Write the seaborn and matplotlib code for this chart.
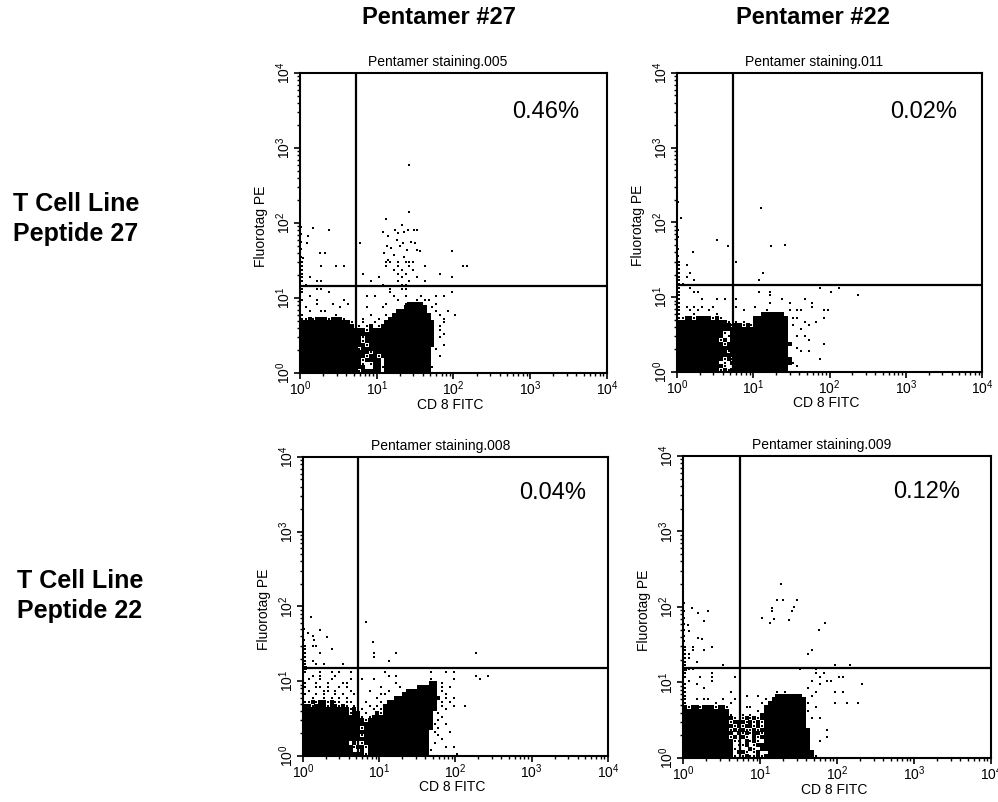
import numpy as np
import pandas as pd
import matplotlib
matplotlib.use('Agg')
import matplotlib.pyplot as plt
from matplotlib.ticker import LogLocator, NullFormatter
import seaborn as sns

sns.set_style('ticks')
plt.rcParams['font.family'] = ['Liberation Sans', 'DejaVu Sans']
plt.rcParams['mathtext.fontset'] = 'custom'
plt.rcParams['mathtext.rm'] = 'Liberation Sans'
plt.rcParams['text.color'] = 'black'
plt.rcParams['axes.labelcolor'] = 'black'

# --------------------
# Data
# --------------------
# Each grid covers CD8 0..2.5 decades (50 columns) and PE 0..1.5 decades
# (30 rows, top row first), 0.05 decade per cell.
# '#' = solid region of events, '.' = single event, '|' separates 10 columns.
CELL = 0.05

grid_005 = [
    ".||  .. . ...",
    ".    .   .| .|  .  .  . |  .|  ..",
    ".||    . .  .",
    ".|      .|     . .|      .",
    ". .||.     .|.        .",
    ".   ..|        .|     .  .|  .",
    " .|| .    ..",
    ".   ..||   .  ..",
    ".      .||   .|         .",
    "  .|       . .|    .  .| .   . .",
    ".   .| .|     .|. ..",
    "    .   .|  .|  .    .##|##   .",
    " .|.      .| .     ###|### .",
    "  .  ..|    .|     #####|###  .  .",
    ".        .|        .|  . ######|####  .|.",
    "..#.###.##|#.    .|.  #######|####   .",
    "##########|###.  .  .|  ########|#####  .",
    "##########|#### . .# |.#########|##### .",
    "##########|#######.##|##########|##### .",
    "##########|##########|##########|#####  .",
    "##########|######.###|##########|##### .",
    "##########|######.###|##########|#####",
    "##########|#######.##|##########|#####  .",
    "##########|#####.####|##########|#### .",
    "##########|########.#|##########|####",
    "##########|#######.##|.#########|####  .",
    "##########|######.###|# ########|####",
    "##########|######. .#|# ########|####",
    "##########|#######  #|#.########|####.",
    "##########|#####.####|# ########|####",
]

grid_011 = [
    ".|     .",
    ". .",
    ".",
    ".  .||  .",
    ". .",
    ".   .|| .",
    "..",
    ".  .|||       .|  .",
    ".   ..|| .  .||.",
    ".||    .||       .",
    ".     .|. .  .|       .|   .",
    ".||    .    .|     .",
    ". . . .  .|     .|.|     .",
    ".  . .  . |       .  |   .     .| ..     ..",
    ".   .|.|  ######",
    "..##.####.|#.|######### |..      .",
    "##########|###. . .|######### |   .  .",
    "##########|####.##.#.|######### |.   .",
    "##########|##########|######### |  .",
    "##########|##. ######|######### ",
    "##########|## .######|######### | . .",
    "##########|#.# ######|######### |    .",
    "##########|##.#######|##########|        .",
    "##########|##########|######### | .",
    "##########|###.######|######### |  . .",
    "##########|##########|######### ",
    "##########|##.#.#####|##########|       .",
    "##########|# . ######|##########|.",
    "##########|##.  #####|######### | .",
    "##########|#.#.######|######### ",
]

grid_008 = [
    ". ..",
    ".      .",
    ".   .|        .|    .||     .",
    ".|        .",
    ". .||  .",
    ".  . .|.",
    "# .     . || .     .",
    ".   .  . .|  .| .|   .   . .",
    "  . .   .||  . .||     .  .",
    " .  .  .|  .  .  .||   .     .|      .",
    ".  .  .|..|    .|   ## .",
    ".  .. .  .| .|.    .|##### . .",
    " .   .. . |  .    .|  .    ###|##### .",
    ".  . .  . |.  .|..    ####|#####  .",
    "  .  . . .| .  .    .|    ######|###### . .",
    "..#.##.#..| ..   .|. ########|##### . .",
    "##.###.##.|#. .   . .| #########|##### .  .|  .",
    "##########|##.# .  . |.#########|#####  .",
    "##########|##.## .  #|.#########|#### .",
    "##########|#####. .##|##########|####  .",
    "##########|######.###|##########|#### .",
    "##########|##########|##########|####.  .",
    "##########|#####.####|##########|#### .",
    "##########|##########|##########|### .   .",
    "##########|#####.####|##########|###  .",
    "##########|##########|##########|###   .",
    "##########|## #..####|##########|### .",
    "##########|###.##.###|##########|###    . .",
    "##########|### .# ###|##########|###.",
    "##########|######.###|##########|###|.",
]

grid_009 = [
    ". .    .",
    ". .  .|||   .",
    "..|||  .",
    "..",
    ".  .",
    ".|.||         .|   .",
    "#..|||.   .",
    ".      .|||    . .",
    ".   .  .|   .||     .|..",
    " .     .|||   .   ..",
    ".  .|||     .|      .",
    ".    .|||  .",
    ".|  .|    . .|    .    .| .",
    ".|      .  .|    ######|#  .",
    ".  . ..|.  .| . #######|##",
    ".       .|  .|. ########|##.      .|  .  .",
    "#.##.###.#|#.    ..| #########|##  .",
    "##########|##       .| #########|##.",
    "##########|##.  . .  |##########|##",
    "##########|###. .#.#.|##########|## . .",
    "##########|##.###.#.#|.#########|##",
    "##########|###.#.##.#|.#########|##",
    "##########|##.#.#..#.|##########|###    .",
    "##########|### #.#.##|.#########|###",
    "##########|##.# #. #.|##########|###    .",
    "##########|###.. #.#.| #########|###  .",
    "##########|### ..# .#|##########|###",
    "##########|###.   #. |##########|###",
    "##########|### ##. .#|  ########|####",
    "##########|###. .#..#|.#########|####.",
]

# events above the grids, (CD8, PE) in decades
extra_005 = [(1.33, 1.97), (1.24, 1.90), (1.28, 1.87), (1.35, 1.88), (1.41, 1.90),
             (1.48, 1.91), (1.52, 1.90), (1.08, 1.88), (1.15, 1.82), (1.26, 1.77),
             (1.34, 1.73), (1.45, 1.75), (1.50, 1.73), (1.13, 1.69), (1.19, 1.66),
             (1.30, 1.69), (1.39, 1.64), (1.52, 1.64), (1.56, 1.62), (1.09, 1.60),
             (1.22, 1.57), (1.35, 1.55), (1.15, 1.51), (1.98, 1.62), (0.78, 1.73),
             (0.17, 1.93), (0.38, 1.91), (0.11, 1.82), (0.26, 1.60), (0.33, 1.60),
             (0.09, 1.73), (0.04, 1.53), (1.42, 2.77), (1.42, 2.15), (1.12, 2.05),
             (0.01, 1.55), (0.01, 1.65), (0.01, 1.75), (0.01, 1.85), (0.01, 1.95)]
extra_011 = [(0.52, 1.77), (0.67, 1.69), (1.23, 1.69), (1.41, 1.70), (0.21, 1.60),
             (1.10, 2.19), (0.05, 2.06), (0.01, 2.27), (0.01, 1.55), (0.01, 1.65),
             (0.01, 1.80), (0.01, 1.90)]
extra_008 = [(0.10, 1.86), (0.83, 1.79), (0.22, 1.68), (0.07, 1.64), (0.13, 1.61),
             (0.31, 1.59), (0.15, 1.55), (0.92, 1.53), (0.01, 1.55), (0.01, 1.70)]
extra_009 = [(1.27, 2.30), (1.22, 2.09), (1.30, 2.09), (1.15, 1.98), (1.16, 1.94),
             (1.03, 1.85), (1.13, 1.79), (1.18, 1.84), (1.38, 1.83), (1.41, 1.94),
             (1.48, 2.09), (1.44, 2.00), (1.77, 1.69), (1.85, 1.79), (0.11, 1.99),
             (0.19, 1.92), (0.32, 1.95), (0.27, 1.82), (0.06, 1.76), (0.08, 1.68),
             (0.19, 1.59), (0.24, 1.57), (0.01, 1.55), (0.01, 1.62), (0.01, 1.70),
             (0.01, 1.78), (0.01, 1.86), (0.01, 1.95), (0.01, 2.05)]

samples = ['Pentamer staining.005', 'Pentamer staining.011',
           'Pentamer staining.008', 'Pentamer staining.009']
grids = [grid_005, grid_011, grid_008, grid_009]
extras = [extra_005, extra_011, extra_008, extra_009]
percents = ['0.46%', '0.02%', '0.04%', '0.12%']
gate_x = [5.4, 5.4, 5.3, 5.5]
gate_y = [14.5, 14.5, 15.1, 15.5]

col_titles = ['Pentamer #27', 'Pentamer #22']
row_titles = ['T Cell Line\nPeptide 27', 'T Cell Line\nPeptide 22']
decades = [1, 10, 100, 1000, 10000]
decade_labels = [r'$\mathregular{10^{%d}}$' % i for i in range(5)]


def decode(rows):
    solid, dots = [], []
    n = len(rows)
    for i, row in enumerate(rows):
        r = n - 1 - i
        line = ''.join(ch[:10].ljust(10) for ch in row.split('|'))
        for c, ch in enumerate(line):
            if ch == '#':
                solid.append((c, r))
            elif ch == '.':
                dots.append((c, r))
    return solid, dots


def to_frame(cells):
    cells = np.array(cells, dtype=float)
    return pd.DataFrame({'CD8 FITC': 10 ** ((cells[:, 0] + 0.5) * CELL),
                         'Fluorotag PE': 10 ** ((cells[:, 1] + 0.5) * CELL)})


# --------------------
# Figure
# --------------------
fig = plt.figure(figsize=(9.98, 8.02), dpi=100)
axes_pos = [[0.3006, 0.5349, 0.3076, 0.3741],
            [0.6784, 0.5362, 0.3056, 0.3728],
            [0.3036, 0.0574, 0.3056, 0.3728],
            [0.6844, 0.0549, 0.3086, 0.3766]]
text_pos = [(0.80, 0.87), (0.81, 0.87), (0.82, 0.88), (0.79, 0.88)]

for k in range(4):
    ax = fig.add_axes(axes_pos[k])
    solid, dots = decode(grids[k])
    df_solid = to_frame(solid)
    df_dots = to_frame(dots)
    ex = np.array(extras[k])
    df_extra = pd.DataFrame({'CD8 FITC': 10 ** ex[:, 0], 'Fluorotag PE': 10 ** ex[:, 1]})

    sns.scatterplot(data=df_solid, x='CD8 FITC', y='Fluorotag PE', marker='s',
                    s=9, color='black', linewidth=0, ax=ax)
    sns.scatterplot(data=pd.concat([df_dots, df_extra]), x='CD8 FITC', y='Fluorotag PE',
                    marker='s', s=2.4, color='black', linewidth=0, ax=ax)

    ax.set_xscale('log')
    ax.set_yscale('log')
    ax.set_xlim(1, 10000)
    ax.set_ylim(1, 10000)
    ax.axvline(gate_x[k], color='black', lw=1.6)
    ax.axhline(gate_y[k], color='black', lw=1.6)

    ax.set_xticks(decades, labels=decade_labels, fontsize=10)
    ax.set_yticks(decades, labels=decade_labels, fontsize=10, rotation=90, va='center')
    ax.xaxis.set_minor_locator(LogLocator(base=10, subs=np.arange(2, 10)))
    ax.yaxis.set_minor_locator(LogLocator(base=10, subs=np.arange(2, 10)))
    ax.xaxis.set_minor_formatter(NullFormatter())
    ax.yaxis.set_minor_formatter(NullFormatter())
    ax.tick_params(which='major', direction='out', length=4, width=1.2, pad=0.8,
                   colors='black')
    ax.tick_params(which='minor', direction='out', length=2.5, width=1.0, colors='black')
    for sp in ax.spines.values():
        sp.set_linewidth(1.5)
        sp.set_color('black')

    ax.set_xlabel('CD 8 FITC', fontsize=10)
    ax.set_ylabel('Fluorotag PE', fontsize=10)
    ax.xaxis.set_label_coords(0.49, -0.082)
    ax.yaxis.set_label_coords(-0.105, 0.49)

    ax.text(0.45, 1.012, samples[k], transform=ax.transAxes, ha='center',
            va='bottom', fontsize=10)
    ax.text(text_pos[k][0], text_pos[k][1], percents[k], transform=ax.transAxes,
            ha='center', va='center', fontsize=17)

fig.text(439 / 998, 1 - 18 / 802, col_titles[0], ha='center', va='center',
         fontsize=17, weight='bold')
fig.text(813 / 998, 1 - 18 / 802, col_titles[1], ha='center', va='center',
         fontsize=17, weight='bold')
fig.text(13 / 998, 1 - 219 / 802, row_titles[0], ha='left', va='center',
         fontsize=18, weight='bold', linespacing=1.3)
fig.text(17 / 998, 1 - 596 / 802, row_titles[1], ha='left', va='center',
         fontsize=18, weight='bold', linespacing=1.3)

fig.savefig('out.png', dpi=100)
